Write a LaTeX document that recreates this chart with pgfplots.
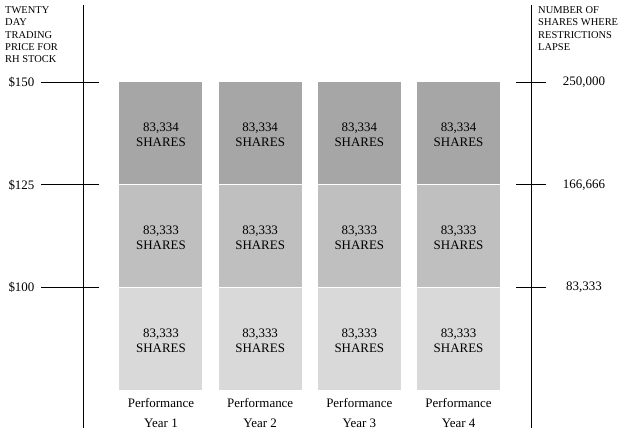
\documentclass[border=0pt]{standalone}
\usepackage{pgfplots}
\pgfplotsset{compat=1.18}
\usepackage{fontspec}
\setmainfont{Liberation Serif}
\definecolor{segtop}{HTML}{A6A6A6}
\definecolor{segmid}{HTML}{BFBFBF}
\definecolor{segbot}{HTML}{D9D9D9}
\begin{document}
\begin{tikzpicture}[x=1bp,y=1bp]
\useasboundingbox (0,0) rectangle (625,432);
\begin{axis}[
  at={(83bp,4bp)}, anchor=south west,
  scale only axis, width=448bp, height=423bp,
  xmin=0.2142, xmax=4.7303, ymin=-30389, ymax=312398,
  ybar stacked, bar width=84bp,
  axis line style={draw=none},
  xtick=\empty, ytick=\empty,
  clip=false,
  every node/.style={inner sep=0pt},
]
\addplot[fill=segbot, draw=white, line width=1bp] coordinates {(1,83333) (2,83333) (3,83333) (4,83333)};
\addplot[fill=segmid, draw=white, line width=1bp] coordinates {(1,83333) (2,83333) (3,83333) (4,83333)};
\addplot[fill=segtop, draw=white, line width=1bp] coordinates {(1,83334) (2,83334) (3,83334) (4,83334)};

% axis lines
\draw[line width=0.9bp] (rel axis cs:0,0) -- (rel axis cs:0,1);
\draw[line width=0.9bp] (rel axis cs:1,0) -- (rel axis cs:1,1);
% ticks
\pgfplotsinvokeforeach{250000,166666,83333}{
  \draw[line width=0.9bp] ([xshift=-42bp]axis cs:0.2142,#1) -- ([xshift=16bp]axis cs:0.2142,#1);
  \draw[line width=0.9bp] ([xshift=-15bp]axis cs:4.7303,#1) -- ([xshift=15bp]axis cs:4.7303,#1);
}
% tick labels
\node[anchor=west, font=\fontsize{13}{15}\selectfont] at ([xshift=-78bp]axis cs:0.2142,250000) {\$150};
\node[anchor=west, font=\fontsize{13}{15}\selectfont] at ([xshift=-78bp]axis cs:0.2142,166666) {\$125};
\node[anchor=west, font=\fontsize{13}{15}\selectfont] at ([xshift=-78bp]axis cs:0.2142,83333) {\$100};
\node[font=\fontsize{13}{15}\selectfont] at ([xshift=53bp]axis cs:4.7303,250000) {250,000};
\node[font=\fontsize{13}{15}\selectfont] at ([xshift=53bp]axis cs:4.7303,166666) {166,666};
\node[font=\fontsize{13}{15}\selectfont] at ([xshift=53bp]axis cs:4.7303,83333) {83,333};

% anchor points for bar texts
\pgfplotsinvokeforeach{1,2,3,4}{
  \coordinate (t#1) at (axis cs:#1,208333);
  \coordinate (m#1) at (axis cs:#1,125000);
  \coordinate (b#1) at (axis cs:#1,41667);
  \node[align=center, font=\fontsize{13}{20}\selectfont] at (axis cs:#1,-18233) {Performance\\Year #1};
}
\end{axis}
\foreach \i in {1,2,3,4}{
  \node[inner sep=0pt, align=center, yshift=-1.5bp, font=\fontsize{13}{15}\selectfont] at (t\i) {83,334\\SHARES};
  \node[inner sep=0pt, align=center, yshift=-1.5bp, font=\fontsize{13}{15}\selectfont] at (m\i) {83,333\\SHARES};
  \node[inner sep=0pt, align=center, yshift=-1.5bp, font=\fontsize{13}{15}\selectfont] at (b\i) {83,333\\SHARES};
}
\node[anchor=north west, align=left, inner sep=0pt, font=\fontsize{10.5}{12.3}\selectfont] at (5,425.5) {TWENTY\\DAY\\TRADING\\PRICE FOR\\RH STOCK};
\node[anchor=north west, align=left, inner sep=0pt, font=\fontsize{10.5}{12.3}\selectfont] at (538,425.5) {NUMBER OF\\SHARES WHERE\\RESTRICTIONS\\LAPSE};
\end{tikzpicture}
\end{document}
